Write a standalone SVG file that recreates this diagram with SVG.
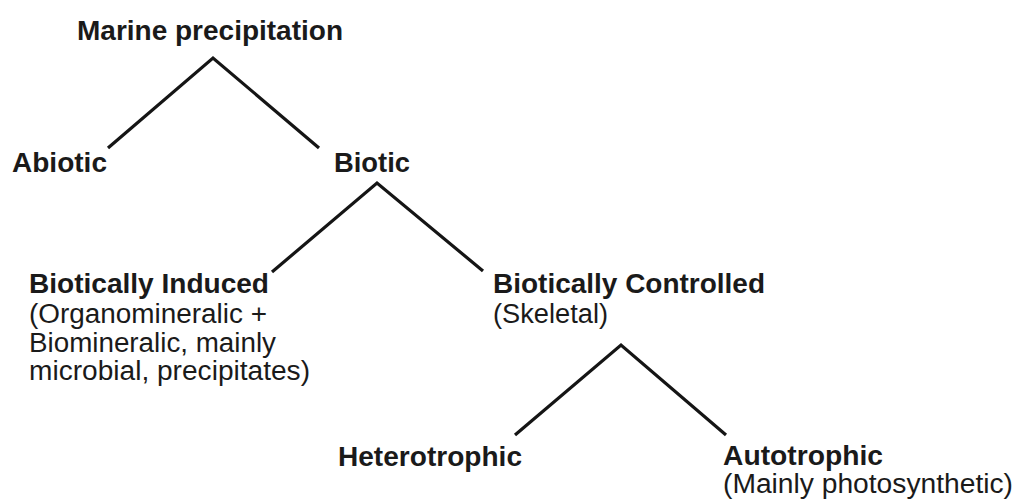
<svg xmlns="http://www.w3.org/2000/svg" width="1019" height="503" viewBox="0 0 1019 503">
<style>
text{font-family:"Liberation Sans",Arial,sans-serif;font-size:27px;fill:#1a1a1a}
.b{font-weight:bold}
.c{fill:none;stroke:#151515;stroke-width:3.2;stroke-linecap:butt;stroke-linejoin:miter}
</style>
<rect width="1019" height="503" fill="#ffffff"/>
<g id="connectors">
<polyline class="c" points="108,148 213,58 319,148"/>
<polyline class="c" points="272,272 377,183 483,271"/>
<polyline class="c" points="515,435 621,345 726,435"/>
</g>
<g id="marine"><text class="b" x="77" y="40" textLength="266" lengthAdjust="spacingAndGlyphs">Marine precipitation</text></g>
<g id="abiotic"><text class="b" x="12" y="172" textLength="95" lengthAdjust="spacingAndGlyphs">Abiotic</text></g>
<g id="biotic"><text class="b" x="334" y="172" textLength="76" lengthAdjust="spacingAndGlyphs">Biotic</text></g>
<g id="induced">
<text class="b" x="29" y="293" textLength="240" lengthAdjust="spacingAndGlyphs">Biotically Induced</text>
<text x="29" y="323" textLength="238" lengthAdjust="spacingAndGlyphs">(Organomineralic +</text>
<text x="29" y="352" textLength="247" lengthAdjust="spacingAndGlyphs">Biomineralic, mainly</text>
<text x="29" y="380" textLength="281" lengthAdjust="spacingAndGlyphs">microbial, precipitates)</text>
</g>
<g id="controlled">
<text class="b" x="493" y="293" textLength="272" lengthAdjust="spacingAndGlyphs">Biotically Controlled</text>
<text x="493" y="323" textLength="115" lengthAdjust="spacingAndGlyphs">(Skeletal)</text>
</g>
<g id="heterotrophic"><text class="b" x="338" y="466" textLength="184" lengthAdjust="spacingAndGlyphs">Heterotrophic</text></g>
<g id="autotrophic">
<text class="b" x="723" y="465" textLength="160" lengthAdjust="spacingAndGlyphs">Autotrophic</text>
<text x="723" y="493" textLength="290" lengthAdjust="spacingAndGlyphs">(Mainly photosynthetic)</text>
</g>
</svg>
